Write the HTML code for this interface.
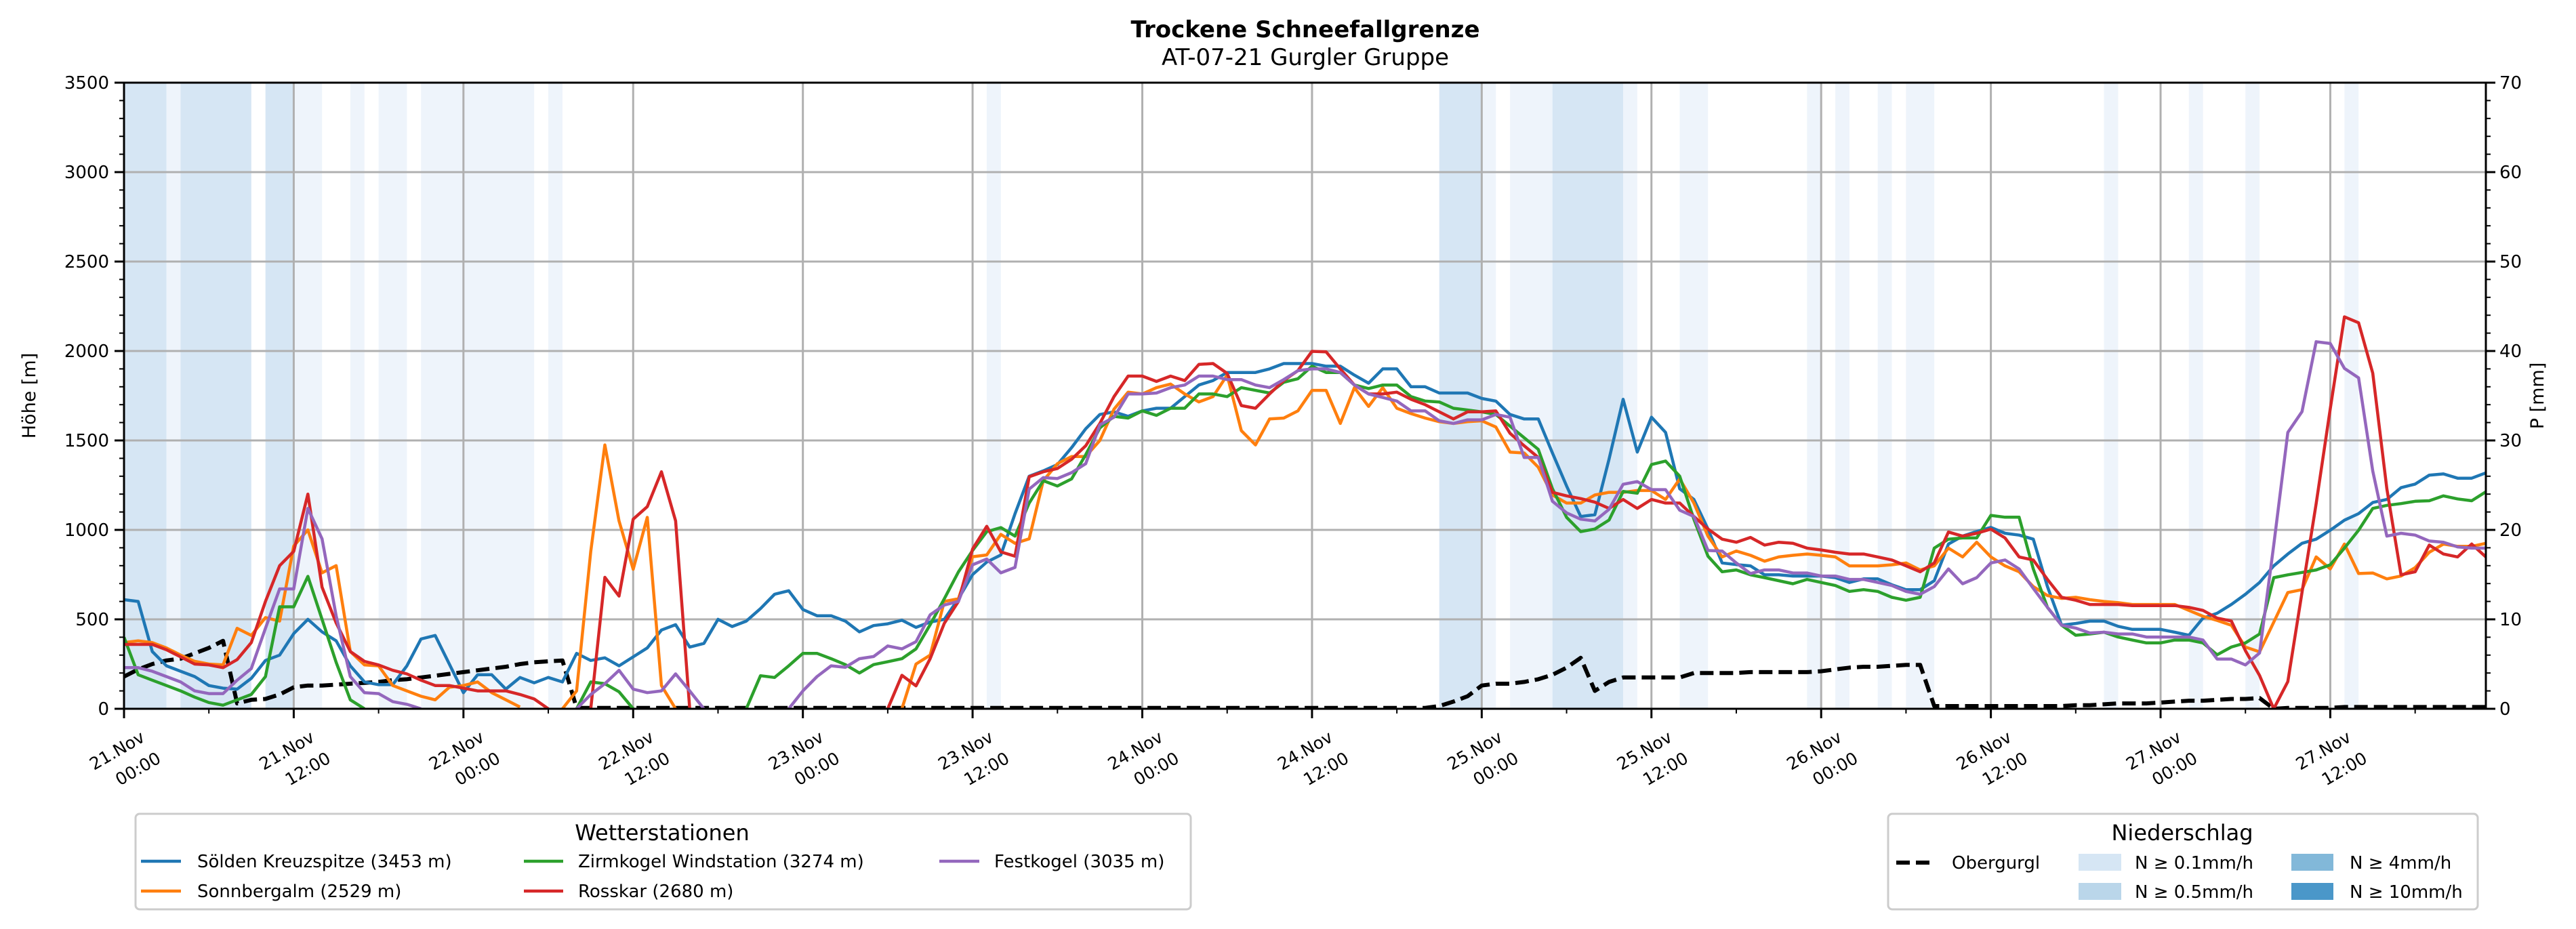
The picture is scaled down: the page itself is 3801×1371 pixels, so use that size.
<!DOCTYPE html>
<html><head><meta charset="utf-8"><style>
html,body{margin:0;padding:0;background:#fff;}
svg{display:block;font-family:"DejaVu Sans","Liberation Sans",sans-serif;}
</style></head><body>
<svg id="chart" width="3801" height="1371" viewBox="0 0 3801 1371" xmlns="http://www.w3.org/2000/svg">
<text x="1926" y="55" text-anchor="middle" font-size="34" font-weight="bold">Trockene Schneefallgrenze</text>
<text x="1926" y="96" text-anchor="middle" font-size="34">AT-07-21 Gurgler Gruppe</text>
<g id="bands"></g>
<g id="grid"></g>
<g id="series"></g>
<g id="axes"></g>
<text transform="translate(52,584) rotate(-90)" text-anchor="middle" font-size="27">Höhe [m]</text>
<text transform="translate(3753,584) rotate(-90)" text-anchor="middle" font-size="27">P [mm]</text>

<g>
<rect x="200" y="1201" width="1557" height="141" rx="6" fill="#fff" stroke="#cccccc" stroke-width="3"/>
<text x="977" y="1240" text-anchor="middle" font-size="32">Wetterstationen</text>
<g><line x1="208" y1="1271" x2="267" y2="1271" stroke="#1f77b4" stroke-width="4.5"/><text x="291" y="1280" font-size="26">Sölden Kreuzspitze (3453 m)</text></g>
<g><line x1="208" y1="1315" x2="267" y2="1315" stroke="#ff7f0e" stroke-width="4.5"/><text x="291" y="1324" font-size="26">Sonnbergalm (2529 m)</text></g>
<g><line x1="773" y1="1271" x2="831" y2="1271" stroke="#2ca02c" stroke-width="4.5"/><text x="853" y="1280" font-size="26">Zirmkogel Windstation (3274 m)</text></g>
<g><line x1="773" y1="1315" x2="831" y2="1315" stroke="#d62728" stroke-width="4.5"/><text x="853" y="1324" font-size="26">Rosskar (2680 m)</text></g>
<g><line x1="1386" y1="1271" x2="1445" y2="1271" stroke="#9467bd" stroke-width="4.5"/><text x="1467" y="1280" font-size="26">Festkogel (3035 m)</text></g>
</g>

<g>
<rect x="2786" y="1201" width="870" height="141" rx="6" fill="#fff" stroke="#cccccc" stroke-width="3"/>
<text x="3220" y="1240" text-anchor="middle" font-size="32">Niederschlag</text>
<g><line x1="2798" y1="1273" x2="2856" y2="1273" stroke="#000" stroke-width="6" stroke-dasharray="20,9"/><text x="2880" y="1282" font-size="26">Obergurgl</text></g>
<g><rect x="3067" y="1260" width="63" height="25" fill="#d6e6f4"/><text x="3150" y="1282" font-size="26">N ≥ 0.1mm/h</text></g>
<g><rect x="3067" y="1303" width="63" height="25" fill="#bad6ea"/><text x="3150" y="1325" font-size="26">N ≥ 0.5mm/h</text></g>
<g><rect x="3381" y="1260" width="62" height="25" fill="#82b8d9"/><text x="3467" y="1282" font-size="26">N ≥ 4mm/h</text></g>
<g><rect x="3381" y="1303" width="62" height="25" fill="#4a97c9"/><text x="3467" y="1325" font-size="26">N ≥ 10mm/h</text></g>
</g>
</svg>
<script>
const soelden=[610,600,320,240,210,180,130,115,110,170,270,300,420,500,430,380,240,150,135,135,240,390,410,250,90,190,190,110,175,145,175,150,310,270,285,240,290,340,440,470,345,365,500,460,490,560,640,660,555,520,520,
490,430,465,475,495,455,485,500,615,750,820,860,1090,1300,1330,1365,1460,1565,1645,1660,1635,1665,1680,1680,1745,1810,1835,1880,1880,1880,1900,1930,1930,1930,
1915,1915,1865,1820,1900,1900,1800,1800,1765,1765,1765,1735,1720,1645,1620,1620,1430,1245,1075,1085,1395,1730,1435,1630,1545,1230,1170,1005,
815,806,799,749,749,742,742,742,733,706,726,726,693,666,666,716,921,965,991,1014,981,971,948,683,467,477,490,490,461,444,444,444,428,411,507,534,583,640,706,799,865,925,948,998,1054,1091,1153,1170,1236,1256,1306,1313,1289,1289,1319];
const sonnbergalm=[370,380,370,340,300,265,250,245,450,410,510,490,910,1000,760,800,320,245,240,130,100,70,50,120,130,150,90,50,10,null,null,0,100,880,1475,1050,780,1070,130,0,
null,null,null,null,null,null,null,null,null,null,null,null,null,null,null,0,250,300,600,615,850,860,975,925,950,1275,1370,1410,1410,1500,1675,1770,1760,1795,1815,1760,1715,1745,1865,1555,1475,1620,1625,1665,1780,
1780,1595,1795,1690,1795,1680,1650,1625,1605,1595,1605,1610,1575,1435,1430,1350,1195,1150,1150,1195,1210,1210,1220,1220,1170,1285,1150,965,
849,882,858,825,849,858,865,858,849,799,799,799,805,815,776,799,898,849,931,849,799,766,683,633,617,623,610,600,593,583,583,583,583,550,517,494,467,345,318,484,650,666,849,782,921,756,759,726,742,789,875,921,908,908,925];
const zirmkogel=[400,190,160,130,100,65,35,20,50,80,180,570,570,740,500,260,50,0,null,null,null,null,null,null,null,null,null,null,null,null,null,null,0,150,140,95,0,null,null,null,null,null,null,null,0,185,175,240,310,310,280,
247,200,247,263,280,335,470,615,765,885,990,1013,965,1150,1275,1245,1285,1420,1570,1635,1625,1665,1640,1680,1680,1760,1760,1745,1795,1780,1765,1825,1845,1915,
1880,1880,1810,1790,1810,1810,1745,1720,1715,1680,1670,1660,1645,1580,1515,1450,1230,1070,990,1005,1055,1215,1205,1365,1385,1300,1060,853,
766,776,749,733,716,699,723,706,689,656,666,656,623,607,623,898,948,955,955,1081,1071,1071,782,567,467,411,418,428,401,384,368,368,384,384,368,302,345,368,418,733,749,762,776,805,898,998,1120,1137,1147,1160,1163,1190,1173,1163,1213];
const rosskar=[360,360,360,330,290,250,245,230,275,370,600,800,880,1200,680,480,320,265,245,215,195,160,130,130,115,100,100,100,80,55,0,null,null,0,735,630,1060,1130,1325,1050,0,
null,null,null,null,null,null,null,null,null,null,null,null,null,0,187,128,280,478,600,893,1020,877,853,1297,1325,1343,1395,1470,1595,1745,1860,1860,1830,1860,1835,1925,1930,1875,1695,1680,1760,1835,1890,1998,
1995,1900,1810,1760,1760,1770,1730,1700,1660,1620,1660,1660,1665,1540,1470,1405,1210,1190,1175,1155,1120,1170,1120,1170,1150,1150,1075,1005,
948,931,958,915,931,925,898,888,875,865,865,849,832,799,766,815,988,965,981,1004,955,849,832,723,623,607,583,583,583,577,577,577,577,567,550,507,491,325,186,0,152,650,1147,1677,2191,2158,1876,1230,749,766,915,865,849,921,849];
const festkogel=[230,230,210,180,150,100,85,85,160,225,450,670,670,1120,950,520,180,90,85,40,25,0,null,null,null,null,null,null,null,null,null,null,0,80,140,215,110,90,100,195,100,0,null,null,null,null,null,0,100,180,240,
232,280,292,351,335,375,525,580,600,805,837,760,790,1228,1292,1287,1320,1370,1587,1630,1760,1760,1765,1795,1810,1860,1860,1840,1840,1810,1795,1840,1890,1900,
1900,1880,1810,1760,1740,1720,1665,1665,1610,1595,1615,1615,1645,1630,1405,1405,1160,1095,1060,1050,1115,1255,1270,1225,1225,1110,1075,885,
882,815,756,776,776,759,759,742,742,723,723,706,689,656,640,683,782,699,733,815,832,782,673,567,467,451,424,428,418,418,401,401,401,401,384,278,278,245,312,915,1545,1661,2052,2042,1903,1850,1329,965,981,971,938,931,905,898,898];
const obergurgl=[3.6,4.4,5.0,5.4,5.6,6.2,6.8,7.6,0.6,1.0,1.1,1.6,2.4,2.6,2.6,2.7,2.8,2.9,3.0,3.2,3.3,3.5,3.7,3.9,4.1,4.3,4.5,4.7,5.0,5.2,5.3,5.4,
0.1,0.1,0.1,0.1,0.1,0.1,0.1,0.1,0.1,0.1,
0.1,0.1,0.1,0.1,0.1,0.1,0.1,0.1,0.1,0.1,
0.1,0.1,0.1,0.1,0.1,0.1,0.1,0.1,0.1,0.1,
0.1,0.1,0.1,0.1,0.1,0.1,0.1,0.1,0.1,0.1,
0.1,0.1,0.1,0.1,0.1,0.1,0.1,0.1,0.1,0.1,
0.1,0.1,0.1,0.1,0.1,0.1,0.1,0.1,0.1,0.1,0.1,
0.3,0.8,1.4,2.6,2.8,2.8,3.0,3.3,3.8,4.6,5.7,2.0,3.0,3.5,3.5,3.5,3.5,3.5,4.0,4.0,4.0,4.0,4.1,
4.1,4.1,4.1,4.1,4.2,4.4,4.6,4.7,4.7,4.8,4.9,4.9,
0.3,0.3,0.3,0.3,0.3,0.3,0.3,0.3,0.3,0.3,0.4,0.4,0.5,0.6,0.6,0.6,0.7,0.8,0.9,0.9,1.0,1.1,1.1,1.2,
0.0,0.1,0.1,0.1,0.1,0.2,0.2,0.2,0.2,0.2,0.2,0.2,0.2,0.2,0.2,0.2];
const bandStart=[0,3,4,10,12,16,18,21,30,61,93,96,98,101,106,110,119,121,124,126,140,146,150,157];
const bandEnd=[3,4,9,12,14,17,20,29,31,62,96,97,101,106,107,112,120,122,125,128,141,147,151,158];
const bandLevel=[2,1,2,2,1,1,1,1,1,1,2,1,1,2,1,1,1,1,1,1,1,1,1,1];
const dateLabels=["21.Nov","21.Nov","22.Nov","22.Nov","23.Nov","23.Nov","24.Nov","24.Nov","25.Nov","25.Nov","26.Nov","26.Nov","27.Nov","27.Nov"];
const timeLabels=["00:00","12:00","00:00","12:00","00:00","12:00","00:00","12:00","00:00","12:00","00:00","12:00","00:00","12:00"];
const yTicks=[0,500,1000,1500,2000,2500,3000,3500];
const y2Ticks=[0,10,20,30,40,50,60,70];

const NS="http://www.w3.org/2000/svg";
const L=183,R=3668,T=122,B=1046,HMAX=167,YMAX=3500,PMAX=70;
const X=h=>L+h*(R-L)/HMAX;
const Y=m=>B-m*(B-T)/YMAX;
const YP=p=>B-p*(B-T)/PMAX;
function mk(tag,attrs,parent){const e=document.createElementNS(NS,tag);for(const k in attrs)e.setAttribute(k,attrs[k]);parent.appendChild(e);return e;}
const gB=document.getElementById('bands'),gG=document.getElementById('grid'),gS=document.getElementById('series'),gA=document.getElementById('axes');
const bandCol={1:"#eef4fb",2:"#d6e6f4"};
for(let i=0;i<bandStart.length;i++){
  const r=mk('rect',{x:X(bandStart[i]),y:T,width:X(bandEnd[i])-X(bandStart[i]),height:B-T,fill:bandCol[bandLevel[i]]},gB);
  
  
}
for(let i=0;i<dateLabels.length;i++){
  const x=X(i*12);
  const g=mk('line',{x1:x,y1:T,x2:x,y2:B,stroke:"#b0b0b0","stroke-width":3},gG);
  
  
}
yTicks.forEach(v=>{
  const g=mk('line',{x1:L,y1:Y(v),x2:R,y2:Y(v),stroke:"#b0b0b0","stroke-width":3},gG);
  
  
});
function drawLine(arr,color,name,yf,dash){
  let d="",pen=false;
  arr.forEach((v,i)=>{
    if(v===null){pen=false;return;}
    d+=(pen?"L":"M")+X(i).toFixed(1)+","+yf(v).toFixed(1);pen=true;
  });
  const p=mk('path',{d:d,fill:"none",stroke:color,"stroke-width":dash?6:4.5,"stroke-linejoin":"round"},gS);
  if(dash)p.setAttribute('stroke-dasharray',dash);
  
  
}
const clip=mk('clipPath',{id:'plotclip'},document.getElementById('chart'));
mk('rect',{x:L,y:T-2,width:R-L,height:B-T+2},clip);
gS.setAttribute('clip-path','url(#plotclip)');
drawLine(obergurgl,"#000","line-obergurgl",YP,"20,9");
drawLine(soelden,"#1f77b4","line-soelden",Y);
drawLine(sonnbergalm,"#ff7f0e","line-sonnbergalm",Y);
drawLine(zirmkogel,"#2ca02c","line-zirmkogel",Y);
drawLine(rosskar,"#d62728","line-rosskar",Y);
drawLine(festkogel,"#9467bd","line-festkogel",Y);
const fr=mk('rect',{x:L,y:T,width:R-L,height:B-T,fill:"none",stroke:"#000","stroke-width":3},gA);


for(let v=0;v<=YMAX;v+=100){
  const major=v%500===0;
  mk('line',{x1:L,y1:Y(v),x2:L-(major?14:7),y2:Y(v),stroke:"#000","stroke-width":major?3:2},gA);
}
yTicks.forEach(v=>{
  const t=mk('text',{x:L-22,y:Y(v)+9,"text-anchor":"end","font-size":26},gA);t.textContent=v;
  
  
});
for(let p=0;p<=PMAX;p+=2){
  const major=p%10===0;
  mk('line',{x1:R,y1:YP(p),x2:R+(major?14:7),y2:YP(p),stroke:"#000","stroke-width":major?3:2},gA);
}
y2Ticks.forEach(p=>{
  const t=mk('text',{x:R+20,y:YP(p)+9,"font-size":26},gA);t.textContent=p;
  
  
});
for(let h=0;h<=HMAX;h+=6){
  const major=h%12===0;
  mk('line',{x1:X(h),y1:B,x2:X(h),y2:B+(major?14:7),stroke:"#000","stroke-width":major?3:2},gA);
}
dateLabels.forEach((d,i)=>{
  const x=X(i*12);
  const t1=mk('text',{x:x-6,y:1115,"text-anchor":"middle","font-size":25,transform:`rotate(-30 ${x-6} 1115)`},gA);t1.textContent=d;
  
  
  const t2=mk('text',{x:x+25,y:1142,"text-anchor":"middle","font-size":25,transform:`rotate(-30 ${x+25} 1142)`},gA);t2.textContent=timeLabels[i];
  
  
});
</script>
</body></html>
